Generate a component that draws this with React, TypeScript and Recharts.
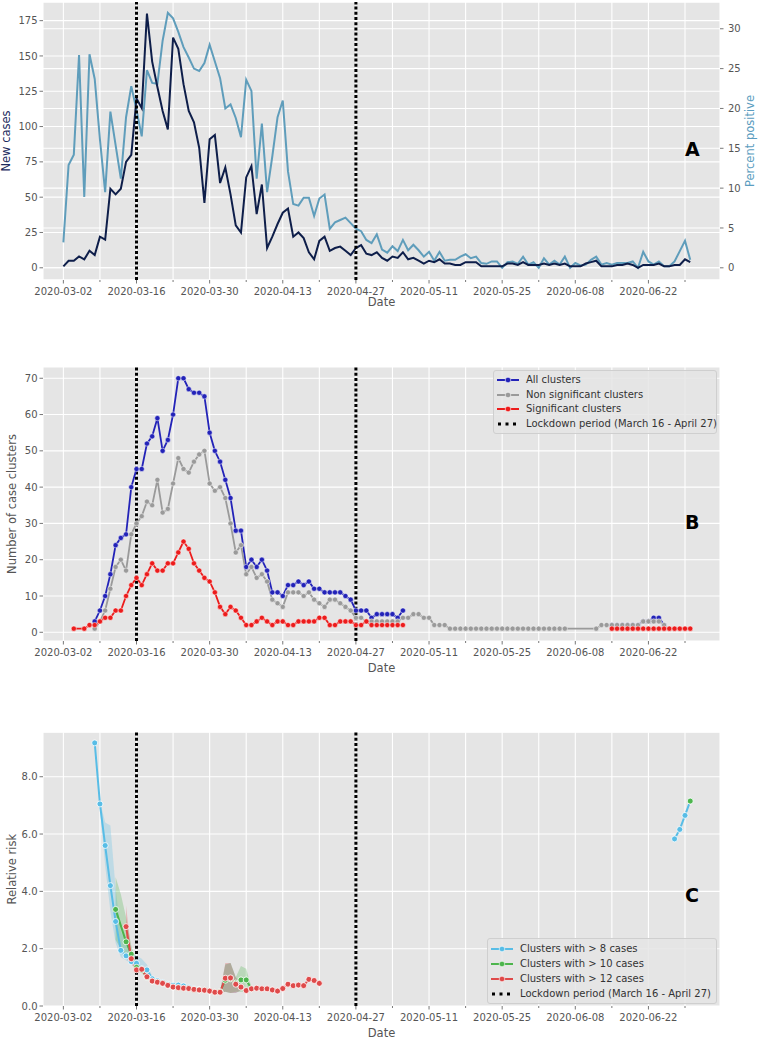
import React from 'react';
import { ComposedChart, Line, Area, XAxis, YAxis, CartesianGrid, ReferenceLine } from 'recharts';

// ---------- categories ----------
const N = null;
const dayCount = 121; // 2020-03-02 .. 2020-06-30
const days = Array.from({ length: dayCount }, (_, i) => i);
const xTickLabels = ['2020-03-02', '2020-03-16', '2020-03-30', '2020-04-13', '2020-04-27', '2020-05-11', '2020-05-25', '2020-06-08', '2020-06-22'];
const xTicks = Array.from({ length: 18 }, (_, i) => i * 7);
const lockdownDays = [14, 56];

// ---------- panel A ----------
const newCases = [
  1, 5, 5, 8, 6, 12, 9, 22, 20, 56,
  52, 56, 75, 80, 120, 113, 180, 146, 128, 111,
  98, 163, 155, 130, 111, 103, 85, 46, 91, 94,
  60, 71, 52, 30, 25, 64, 72, 38, 59, 14,
  22, 31, 39, 42, 22, 25, 21, 11, 6, 19,
  22, 12, 14, 15, 12, 9, 14, 16, 10, 9,
  11, 7, 5, 8, 7, 11, 6, 7, 5, 3,
  5, 4, 6, 3, 3, 2, 2, 4, 4, 4,
  1, 1, 1, 1, 1, 3, 3, 2, 4, 2,
  2, 2, 3, 2, 3, 2, 3, 1, 1, 1,
  3, 4, 5, 1, 1, 1, 2, 2, 3, 2,
  0, 2, 2, 2, 3, 1, 1, 2, 2, 6, 4,
];
const percentPositive = [
  3.2, 12.9, 14.2, 26.7, 8.9, 26.8, 23.7, 16.1, 9.5, 19.6,
  15.4, 11.2, 18.9, 22.8, 19.8, 16.5, 24.8, 23.2, 23.1, 28.5,
  32.0, 31.3, 29.6, 27.7, 26.4, 25.0, 24.7, 25.7, 28.0, 25.9,
  23.8, 20.0, 20.5, 18.8, 16.4, 23.6, 22.2, 11.2, 18.1, 9.5,
  14.0, 18.9, 21.0, 12.1, 8.0, 7.8, 8.8, 8.8, 6.5, 8.7,
  9.2, 4.9, 5.7, 6.0, 6.3, 5.6, 4.9, 4.6, 3.5, 3.1,
  4.2, 2.3, 1.9, 2.7, 2.1, 3.5, 2.2, 2.9, 2.2, 1.4,
  2.0, 0.9, 2.0, 0.9, 1.0, 1.0, 1.4, 1.7, 1.2, 1.4,
  0.6, 0.5, 0.8, 0.8, 0.0, 0.7, 0.8, 0.5, 1.4, 0.4,
  0.7, 0.0, 1.2, 0.4, 0.9, 0.4, 1.4, 0.0, 0.6, 0.3,
  0.4, 1.0, 1.4, 0.4, 0.6, 0.4, 0.6, 0.6, 0.6, 0.8,
  0.0, 2.0, 0.8, 0.4, 0.8, 0.2, 0.2, 0.8, 2.1, 3.4, 1.0,
];
const casesTicks = [0, 25, 50, 75, 100, 125, 150, 175];
const pctTicks = [0, 5, 10, 15, 20, 25, 30];

// ---------- panel B ----------
const allClusters = [
  N, N, N, N, N, N, 3, 6, 10, 16,
  24, 26, 27, 40, 45, 45, 52, 54, 59, 50,
  53, 60, 70, 70, 67, 66, 66, 65, 55, 50,
  47, 42, 37, 28, 28, 18, 20, 18, 20, 17,
  11, 11, 10, 13, 13, 14, 13, 14, 12, 12,
  11, 11, 11, 11, 10, 9, 6, 6, 6, 4,
  5, 5, 5, 5, 4, 6, N, N, N, N,
  N, N, N, N, N, N, N, N, N, N,
  N, N, N, N, N, N, N, N, N, N,
  N, N, N, N, N, N, N, N, N, N,
  N, N, N, N, N, 2, 2, 2, 2, 2,
  2, 3, 3, 4, 4, 2, N, N, N, N, N,
];
const nonSignificant = [
  N, N, N, N, N, N, 1, 3, 6, 12,
  18, 20, 17, 27, 30, 32, 36, 35, 42, 33,
  34, 41, 48, 45, 44, 47, 49, 50, 41, 39,
  40, 37, 30, 22, 24, 16, 18, 15, 16, 14,
  9, 8, 7, 11, 11, 11, 10, 11, 9, 8,
  7, 9, 9, 8, 7, 6, 4, 4, 3, 3,
  3, 3, 3, 3, 3, 4, 4, 5, 5, 4,
  4, 2, 2, 2, 1, 1, 1, 1, 1, 1,
  1, 1, 1, 1, 1, 1, 1, 1, 1, 1,
  1, 1, 1, 1, 1, 1, 1, N, N, N,
  N, N, 1, 2, 2, 2, 2, 2, 2, 2,
  2, 3, 3, 3, 3, 2, N, N, N, N, N,
];
const significant = [
  N, N, 1, N, 1, 2, 2, 3, 4, 4,
  6, 6, 10, 13, 15, 13, 16, 19, 17, 17,
  19, 19, 22, 25, 23, 19, 17, 15, 14, 11,
  7, 5, 7, 6, 4, 2, 2, 3, 4, 3,
  2, 3, 3, 2, 2, 3, 3, 3, 3, 4,
  4, 2, 2, 3, 3, 3, 2, 2, 3, 2,
  2, 2, 2, 2, 2, 2, N, N, N, N,
  N, N, N, N, N, N, N, N, N, N,
  N, N, N, N, N, N, N, N, N, N,
  N, N, N, N, N, N, N, N, N, N,
  N, N, N, N, N, 1, 1, 1, 1, 1,
  1, 1, 1, 1, 1, 1, 1, 1, 1, 1, 1,
];
const clusterTicks = [0, 10, 20, 30, 40, 50, 60, 70];

// ---------- panel C ----------
const rrOver8 = [
  N, N, N, N, N, N, 9.18, 7.05, 5.6, 4.2,
  2.95, 1.94, 1.75, 1.55, 1.49, 1.3, 1.26, 0.95, 0.88, 0.82,
  0.76, 0.72, 0.73, 0.7, 0.65, 0.6, 0.58,
  ...Array(90).fill(N),
  5.83, 6.16, 6.65, 7.15,
];
const rrOver10 = [
  ...Array(10).fill(N),
  3.37, N, 2.24, 1.81, 1.35, 1.25, 1.0, 0.87, 0.83, 0.79,
  0.72, 0.66, 0.64, 0.62, 0.61, 0.58, 0.56, 0.55, 0.52, 0.48,
  0.5, 0.9, 0.95, 0.8, 0.91, 0.91, 0.6,
  ...Array(83).fill(N),
  7.15,
];
const rrOver12 = [
  ...Array(12).fill(N),
  2.77, 1.65, 1.26, 1.28, 1.02, 0.87, 0.83, 0.79,
  0.72, 0.66, 0.64, 0.62, 0.61, 0.58, 0.56, 0.55, 0.52, 0.48,
  0.48, 0.97, 0.98, 0.76, 0.66, 0.54, 0.6, 0.62, 0.6, 0.6,
  0.56, 0.52, 0.61, 0.76, 0.71, 0.73, 0.71, 0.93, 0.89, 0.79,
  ...Array(71).fill(N),
];
// confidence bands: [day, low, high]
const bandOver8 = [
  [7, 6.9, 7.15], [8, 4.9, 6.4], [9, 3.3, 6.3], [10, 2.2, 4.1], [11, 1.7, 2.6], [12, 1.6, 2.2],
  [13, 1.45, 1.85], [14, 1.3, 1.75], [15, 1.2, 1.65], [16, 1.1, 1.45], [17, 0.9, 1.05],
  [30, 0.45, 0.5], [31, 0.5, 1.45], [32, 0.45, 1.5], [33, 0.45, 1.0], [34, 0.55, 0.75],
];
const bandOver10 = [
  [10, 2.3, 4.5], [11, 2.0, 3.9], [12, 1.7, 3.1], [13, 1.5, 2.1], [14, 1.25, 1.5],
  [30, 0.45, 0.5], [31, 0.5, 1.45], [32, 0.45, 1.5], [33, 0.5, 1.0], [34, 0.5, 1.4], [35, 0.5, 1.3], [36, 0.58, 0.65],
];
const bandOver12 = [
  [12, 2.3, 3.5], [13, 1.5, 1.9], [14, 1.15, 1.35], [15, 1.15, 1.4], [16, 0.95, 1.1], [17, 0.8, 0.95],
  [18, 0.77, 0.9], [19, 0.72, 0.86],
  [30, 0.45, 0.5], [31, 0.5, 1.5], [32, 0.45, 1.5], [33, 0.45, 1.0], [34, 0.55, 0.75],
];
const rrTicks = [0, 2, 4, 6, 8];

// ---------- build rows ----------
const bandAt = (band: number[][], d: number) => {
  const b = band.find((r) => r[0] === d);
  return b ? [b[1], b[2]] : null;
};
const dataA = days.map((d) => ({ day: d, cases: newCases[d], pct: percentPositive[d] }));
const dataB = days.map((d) => ({
  day: d,
  allEarly: d <= 80 ? allClusters[d] : null,
  allLate: d > 80 ? allClusters[d] : null,
  nonSig: nonSignificant[d],
  sigEarly: d <= 80 ? significant[d] : null,
  sigLate: d > 80 ? significant[d] : null,
}));
const dataC = days.map((d) => ({
  day: d,
  r8Early: d <= 80 ? rrOver8[d] : null,
  r8Late: d > 80 ? rrOver8[d] : null,
  r10Early: d <= 80 ? rrOver10[d] : null,
  r10Late: d > 80 ? rrOver10[d] : null,
  r12: rrOver12[d],
  b8: bandAt(bandOver8, d),
  b10: bandAt(bandOver10, d),
  b12: bandAt(bandOver12, d),
}));

// ---------- styles ----------
const FONT = 'DejaVu Sans';
const TICK_COLOR = '#555555';
const X_DOMAIN = [-3.9, 125.7];
const C_NAVY = '#0e1e4a';
const C_STEEL = '#5f9dbb';
const C_BLUE = '#2323b8';
const C_GRAY = '#9a9a9a';
const C_RED = '#ec1c1c';
const C_LBLUE = '#58bde6';
const C_GREEN = '#4db54d';
const C_LRED = '#df4a4a';

const XTick = (props: any) => {
  const { x, y, payload } = props;
  const d = payload.value;
  const major = d % 14 === 0;
  return (
    <g>
      <line x1={x} x2={x} y1={y} y2={y + (major ? 3.5 : 2)} stroke={TICK_COLOR} strokeWidth={0.8} />
      {major && (
        <text x={x} y={y + 15.4} textAnchor="middle" fontSize={10} fontFamily={FONT} fill={TICK_COLOR}>
          {xTickLabels[d / 14]}
        </text>
      )}
    </g>
  );
};
const YTickLeft = (props: any) => {
  const { x, y, payload, fmt } = props;
  return (
    <g>
      <line x1={x - 3.5} x2={x} y1={y} y2={y} stroke={TICK_COLOR} strokeWidth={0.8} />
      <text x={x - 5.5} y={y + 3.6} textAnchor="end" fontSize={10} fontFamily={FONT} fill={TICK_COLOR}>
        {fmt ? fmt(payload.value) : payload.value}
      </text>
    </g>
  );
};
const YTickRight = (props: any) => {
  const { x, y, payload } = props;
  return (
    <g>
      <line x1={x} x2={x + 3.5} y1={y} y2={y} stroke={TICK_COLOR} strokeWidth={0.8} />
      <text x={x + 8} y={y + 3.6} textAnchor="start" fontSize={10} fontFamily={FONT} fill={TICK_COLOR}>
        {payload.value}
      </text>
    </g>
  );
};

const xAxisProps = (offset: number) => ({
  dataKey: 'day',
  type: 'number' as const,
  domain: X_DOMAIN,
  ticks: xTicks,
  interval: 0 as const,
  allowDataOverflow: true,
  tick: <XTick />,
  tickLine: false,
  axisLine: false,
  tickSize: 0,
  tickMargin: 0,
  label: { value: 'Date', position: 'insideBottom' as const, offset, fontSize: 11.5, fontFamily: FONT, fill: TICK_COLOR },
});

const lockdownLines = (yAxisId: string) =>
  lockdownDays.map((d) => (
    <ReferenceLine key={'ld' + d} yAxisId={yAxisId} x={d} stroke="#000" strokeWidth={3} strokeDasharray="3 2.2" ifOverflow="visible" />
  ));

const LegendBox = ({ left, top, width, rowH, items }: any) => (
  <div
    style={{
      position: 'absolute', left, top, width, boxSizing: 'border-box',
      background: 'rgba(229,229,229,0.85)', border: '1px solid #cfcfcf', borderRadius: 3,
      padding: '2px 3px', fontFamily: FONT, fontSize: 10, color: '#333', lineHeight: rowH + 'px',
    }}
  >
    {items.map((it: any) => (
      <div key={it.label} style={{ display: 'flex', alignItems: 'center', height: rowH, whiteSpace: 'nowrap' }}>
        <svg width={22} height={8} style={{ marginRight: 7, flex: 'none' }}>
          {it.dotted ? (
            <line x1={1} x2={22} y1={4} y2={4} stroke="#000" strokeWidth={3} strokeDasharray="3 4.5" />
          ) : (
            <g>
              <line x1={0} x2={22} y1={4} y2={4} stroke={it.color} strokeWidth={2} />
              <circle cx={11} cy={4} r={2.8} fill={it.color} stroke="#fff" strokeWidth={0.6} />
            </g>
          )}
        </svg>
        <span>{it.label}</span>
      </div>
    ))}
  </div>
);

const PanelLetter = ({ x, y, text }: any) => (
  <svg style={{ position: 'absolute', left: 0, top: 0, pointerEvents: 'none' }} width={758} height={1039}>
    <text x={x} y={y} fontSize={19} fontWeight="bold" fontFamily={FONT} fill="#000">{text}</text>
  </svg>
);

export default function App() {
  return (
    <div style={{ position: 'absolute', left: 0, top: 0, width: 758, height: 1039, background: '#fff', fontFamily: FONT }}>
      {/* Panel A */}
      <div style={{ position: 'absolute', left: 0, top: 0 }}>
        <ComposedChart width={758} height={310} data={dataA} margin={{ top: 2, right: 0, left: 0, bottom: 0 }}>
          <CartesianGrid yAxisId="left" stroke="#ffffff" strokeWidth={1.1} fill="#e5e5e5" fillOpacity={1} />
          <CartesianGrid yAxisId="right" stroke="#ffffff" strokeWidth={1.1} vertical={false} />
          <XAxis {...xAxisProps(4)} />
          <YAxis
            yAxisId="left" width={43} domain={[-8.65, 188.2]} ticks={casesTicks} interval={0} allowDataOverflow
            tick={<YTickLeft />} tickLine={false} axisLine={false} tickSize={0} tickMargin={0}
            label={{ value: 'New cases', angle: -90, position: 'insideLeft', offset: 6, textAnchor: 'middle', fontSize: 11.5, fontFamily: FONT, fill: '#1b2b5e' }}
          />
          <YAxis
            yAxisId="right" orientation="right" width={38} domain={[-1.53, 33.36]} ticks={pctTicks} interval={0} allowDataOverflow
            tick={<YTickRight />} tickLine={false} axisLine={false} tickSize={0} tickMargin={0}
            label={{ value: 'Percent positive', angle: -90, position: 'insideRight', offset: 8, textAnchor: 'middle', fontSize: 11.5, fontFamily: FONT, fill: '#5b9dc0' }}
          />
          <Line yAxisId="right" dataKey="pct" stroke={C_STEEL} strokeWidth={2} dot={false} isAnimationActive={false} />
          <Line yAxisId="left" dataKey="cases" stroke={C_NAVY} strokeWidth={2} dot={false} isAnimationActive={false} />
          {lockdownLines('left')}
        </ComposedChart>
      </div>

      {/* Panel B */}
      <div style={{ position: 'absolute', left: 0, top: 330 }}>
        <ComposedChart width={758} height={345} data={dataB} margin={{ top: 37, right: 38, left: 0, bottom: 0 }}>
          <CartesianGrid yAxisId="b" stroke="#ffffff" strokeWidth={1.1} fill="#e5e5e5" fillOpacity={1} />
          <XAxis {...xAxisProps(3.5)} height={34} />
          <YAxis
            yAxisId="b" width={43} domain={[-2.4, 73.1]} ticks={clusterTicks} interval={0} allowDataOverflow
            tick={<YTickLeft />} tickLine={false} axisLine={false} tickSize={0} tickMargin={0}
            label={{ value: 'Number of case clusters', angle: -90, position: 'insideLeft', offset: 12, textAnchor: 'middle', fontSize: 11.5, fontFamily: FONT, fill: TICK_COLOR }}
          />
          {lockdownLines('b')}
          <Line yAxisId="b" dataKey="allEarly" stroke={C_BLUE} strokeWidth={1.8} connectNulls dot={{ r: 2.6, fill: C_BLUE, stroke: '#fff', strokeWidth: 0.5 }} isAnimationActive={false} />
          <Line yAxisId="b" dataKey="allLate" stroke={C_BLUE} strokeWidth={1.8} connectNulls dot={{ r: 2.6, fill: C_BLUE, stroke: '#fff', strokeWidth: 0.5 }} isAnimationActive={false} />
          <Line yAxisId="b" dataKey="nonSig" stroke={C_GRAY} strokeWidth={1.8} connectNulls dot={{ r: 2.6, fill: C_GRAY, stroke: '#fff', strokeWidth: 0.5 }} isAnimationActive={false} />
          <Line yAxisId="b" dataKey="sigEarly" stroke={C_RED} strokeWidth={1.8} connectNulls dot={{ r: 2.6, fill: C_RED, stroke: '#fff', strokeWidth: 0.5 }} isAnimationActive={false} />
          <Line yAxisId="b" dataKey="sigLate" stroke={C_RED} strokeWidth={1.8} connectNulls dot={{ r: 2.6, fill: C_RED, stroke: '#fff', strokeWidth: 0.5 }} isAnimationActive={false} />
        </ComposedChart>
      </div>

      {/* Panel C */}
      <div style={{ position: 'absolute', left: 0, top: 700 }}>
        <ComposedChart width={758} height={339} data={dataC} margin={{ top: 32.3, right: 38, left: 0, bottom: 0 }}>
          <CartesianGrid yAxisId="c" stroke="#ffffff" strokeWidth={1.1} fill="#e5e5e5" fillOpacity={1} />
          <XAxis {...xAxisProps(2.5)} height={33} />
          <YAxis
            yAxisId="c" width={43} domain={[0, 9.55]} ticks={rrTicks} interval={0} allowDataOverflow
            tick={<YTickLeft fmt={(v: number) => v.toFixed(1)} />} tickLine={false} axisLine={false} tickSize={0} tickMargin={0}
            label={{ value: 'Relative risk', angle: -90, position: 'insideLeft', offset: 12, textAnchor: 'middle', fontSize: 11.5, fontFamily: FONT, fill: TICK_COLOR }}
          />
          {lockdownLines('c')}
          <Area yAxisId="c" dataKey="b8" stroke="none" fill={C_LBLUE} fillOpacity={0.28} isAnimationActive={false} />
          <Area yAxisId="c" dataKey="b10" stroke="none" fill={C_GREEN} fillOpacity={0.28} isAnimationActive={false} />
          <Area yAxisId="c" dataKey="b12" stroke="none" fill={C_LRED} fillOpacity={0.28} isAnimationActive={false} />
          <Line yAxisId="c" dataKey="r8Early" stroke={C_LBLUE} strokeWidth={2} connectNulls dot={{ r: 3, fill: C_LBLUE, stroke: '#fff', strokeWidth: 0.8 }} isAnimationActive={false} />
          <Line yAxisId="c" dataKey="r8Late" stroke={C_LBLUE} strokeWidth={2} connectNulls dot={{ r: 3, fill: C_LBLUE, stroke: '#fff', strokeWidth: 0.8 }} isAnimationActive={false} />
          <Line yAxisId="c" dataKey="r10Early" stroke={C_GREEN} strokeWidth={2} connectNulls dot={{ r: 3, fill: C_GREEN, stroke: '#fff', strokeWidth: 0.8 }} isAnimationActive={false} />
          <Line yAxisId="c" dataKey="r10Late" stroke={C_GREEN} strokeWidth={2} connectNulls dot={{ r: 3, fill: C_GREEN, stroke: '#fff', strokeWidth: 0.8 }} isAnimationActive={false} />
          <Line yAxisId="c" dataKey="r12" stroke={C_LRED} strokeWidth={2} connectNulls dot={{ r: 3, fill: C_LRED, stroke: '#fff', strokeWidth: 0.8 }} isAnimationActive={false} />
        </ComposedChart>
      </div>

      <LegendBox
        left={493} top={370} width={224} rowH={14.5}
        items={[
          { label: 'All clusters', color: C_BLUE },
          { label: 'Non significant clusters', color: C_GRAY },
          { label: 'Significant clusters', color: C_RED },
          { label: 'Lockdown period (March 16 - April 27)', dotted: true },
        ]}
      />
      <LegendBox
        left={487} top={938} width={230} rowH={15}
        items={[
          { label: 'Clusters with > 8 cases', color: C_LBLUE },
          { label: 'Clusters with > 10 cases', color: C_GREEN },
          { label: 'Clusters with > 12 cases', color: C_LRED },
          { label: 'Lockdown period (March 16 - April 27)', dotted: true },
        ]}
      />
      <PanelLetter x={685} y={156} text="A" />
      <PanelLetter x={685} y={529} text="B" />
      <PanelLetter x={685} y={902} text="C" />
    </div>
  );
}
